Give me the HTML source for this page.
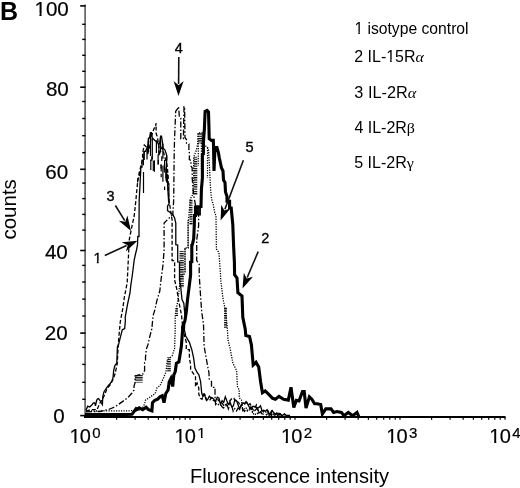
<!DOCTYPE html>
<html><head><meta charset="utf-8"><style>
html,body{margin:0;padding:0;background:#fff;width:520px;height:488px;overflow:hidden}
svg{position:absolute;left:0;top:0;display:block;will-change:transform}
</style></head><body>
<svg width="520" height="488" viewBox="0 0 520 488">
<defs><pattern id="hp" width="4" height="2.3" patternUnits="userSpaceOnUse"><rect x="0" y="0" width="4" height="1.2" fill="#000"/></pattern></defs>
<line x1="85.1" y1="4.6" x2="85.1" y2="417" stroke="#5a5a5a" stroke-width="1.6"/><line x1="84" y1="417" x2="505.5" y2="417" stroke="#000" stroke-width="2"/><line x1="80.2" y1="5.9" x2="85.5" y2="5.9" stroke="#000" stroke-width="1.6"/><line x1="82.2" y1="24.3" x2="85.5" y2="24.3" stroke="#000" stroke-width="1.4"/><line x1="82.2" y1="39.4" x2="85.5" y2="39.4" stroke="#000" stroke-width="1.4"/><line x1="82.2" y1="55.3" x2="85.5" y2="55.3" stroke="#000" stroke-width="1.4"/><line x1="82.2" y1="71.3" x2="85.5" y2="71.3" stroke="#000" stroke-width="1.4"/><line x1="80.2" y1="87.2" x2="85.5" y2="87.2" stroke="#000" stroke-width="1.6"/><line x1="82.2" y1="101.5" x2="85.5" y2="101.5" stroke="#000" stroke-width="1.4"/><line x1="82.2" y1="118.5" x2="85.5" y2="118.5" stroke="#000" stroke-width="1.4"/><line x1="82.2" y1="135.7" x2="85.5" y2="135.7" stroke="#000" stroke-width="1.4"/><line x1="82.2" y1="152.7" x2="85.5" y2="152.7" stroke="#000" stroke-width="1.4"/><line x1="80.2" y1="169.3" x2="85.5" y2="169.3" stroke="#000" stroke-width="1.6"/><line x1="82.2" y1="183.1" x2="85.5" y2="183.1" stroke="#000" stroke-width="1.4"/><line x1="82.2" y1="198.6" x2="85.5" y2="198.6" stroke="#000" stroke-width="1.4"/><line x1="82.2" y1="214.4" x2="85.5" y2="214.4" stroke="#000" stroke-width="1.4"/><line x1="82.2" y1="230.1" x2="85.5" y2="230.1" stroke="#000" stroke-width="1.4"/><line x1="80.2" y1="250.5" x2="85.5" y2="250.5" stroke="#000" stroke-width="1.6"/><line x1="82.2" y1="265.4" x2="85.5" y2="265.4" stroke="#000" stroke-width="1.4"/><line x1="82.2" y1="282.0" x2="85.5" y2="282.0" stroke="#000" stroke-width="1.4"/><line x1="82.2" y1="299.1" x2="85.5" y2="299.1" stroke="#000" stroke-width="1.4"/><line x1="82.2" y1="316.0" x2="85.5" y2="316.0" stroke="#000" stroke-width="1.4"/><line x1="80.2" y1="333.1" x2="85.5" y2="333.1" stroke="#000" stroke-width="1.6"/><line x1="82.2" y1="347.4" x2="85.5" y2="347.4" stroke="#000" stroke-width="1.4"/><line x1="82.2" y1="364.4" x2="85.5" y2="364.4" stroke="#000" stroke-width="1.4"/><line x1="82.2" y1="382.3" x2="85.5" y2="382.3" stroke="#000" stroke-width="1.4"/><line x1="82.2" y1="399.3" x2="85.5" y2="399.3" stroke="#000" stroke-width="1.4"/><line x1="80.2" y1="415.6" x2="85.5" y2="415.6" stroke="#000" stroke-width="1.6"/><line x1="116.6" y1="417" x2="116.6" y2="419.8" stroke="#000" stroke-width="1.2"/><line x1="135.1" y1="417" x2="135.1" y2="419.8" stroke="#000" stroke-width="1.2"/><line x1="148.2" y1="417" x2="148.2" y2="419.8" stroke="#000" stroke-width="1.2"/><line x1="158.4" y1="417" x2="158.4" y2="419.8" stroke="#000" stroke-width="1.2"/><line x1="166.7" y1="417" x2="166.7" y2="419.8" stroke="#000" stroke-width="1.2"/><line x1="173.7" y1="417" x2="173.7" y2="419.8" stroke="#000" stroke-width="1.2"/><line x1="179.8" y1="417" x2="179.8" y2="419.8" stroke="#000" stroke-width="1.2"/><line x1="185.2" y1="417" x2="185.2" y2="419.8" stroke="#000" stroke-width="1.2"/><line x1="190.0" y1="417" x2="190.0" y2="419.8" stroke="#000" stroke-width="1.2"/><line x1="221.6" y1="417" x2="221.6" y2="419.8" stroke="#000" stroke-width="1.2"/><line x1="240.1" y1="417" x2="240.1" y2="419.8" stroke="#000" stroke-width="1.2"/><line x1="253.2" y1="417" x2="253.2" y2="419.8" stroke="#000" stroke-width="1.2"/><line x1="263.4" y1="417" x2="263.4" y2="419.8" stroke="#000" stroke-width="1.2"/><line x1="271.7" y1="417" x2="271.7" y2="419.8" stroke="#000" stroke-width="1.2"/><line x1="278.7" y1="417" x2="278.7" y2="419.8" stroke="#000" stroke-width="1.2"/><line x1="284.8" y1="417" x2="284.8" y2="419.8" stroke="#000" stroke-width="1.2"/><line x1="290.2" y1="417" x2="290.2" y2="419.8" stroke="#000" stroke-width="1.2"/><line x1="295.0" y1="417" x2="295.0" y2="419.8" stroke="#000" stroke-width="1.2"/><line x1="326.6" y1="417" x2="326.6" y2="419.8" stroke="#000" stroke-width="1.2"/><line x1="345.1" y1="417" x2="345.1" y2="419.8" stroke="#000" stroke-width="1.2"/><line x1="358.2" y1="417" x2="358.2" y2="419.8" stroke="#000" stroke-width="1.2"/><line x1="368.4" y1="417" x2="368.4" y2="419.8" stroke="#000" stroke-width="1.2"/><line x1="376.7" y1="417" x2="376.7" y2="419.8" stroke="#000" stroke-width="1.2"/><line x1="383.7" y1="417" x2="383.7" y2="419.8" stroke="#000" stroke-width="1.2"/><line x1="389.8" y1="417" x2="389.8" y2="419.8" stroke="#000" stroke-width="1.2"/><line x1="395.2" y1="417" x2="395.2" y2="419.8" stroke="#000" stroke-width="1.2"/><line x1="400.0" y1="417" x2="400.0" y2="419.8" stroke="#000" stroke-width="1.2"/><line x1="431.6" y1="417" x2="431.6" y2="419.8" stroke="#000" stroke-width="1.2"/><line x1="450.1" y1="417" x2="450.1" y2="419.8" stroke="#000" stroke-width="1.2"/><line x1="463.2" y1="417" x2="463.2" y2="419.8" stroke="#000" stroke-width="1.2"/><line x1="473.4" y1="417" x2="473.4" y2="419.8" stroke="#000" stroke-width="1.2"/><line x1="481.7" y1="417" x2="481.7" y2="419.8" stroke="#000" stroke-width="1.2"/><line x1="488.7" y1="417" x2="488.7" y2="419.8" stroke="#000" stroke-width="1.2"/><line x1="494.8" y1="417" x2="494.8" y2="419.8" stroke="#000" stroke-width="1.2"/><line x1="500.2" y1="417" x2="500.2" y2="419.8" stroke="#000" stroke-width="1.2"/><line x1="505.0" y1="417" x2="505.0" y2="419.8" stroke="#000" stroke-width="1.2"/>
<rect x="195.2" y="206.5" width="5.8" height="9.0" fill="#111"/><polyline points="86.0,410.0 87.8,406.2 89.7,407.0 92.0,404.7 93.5,402.8 94.7,402.8 95.5,405.8 96.6,400.5 97.4,398.9 98.5,398.5 100.0,400.5 101.2,402.8 102.4,404.7 102.8,396.6 103.9,392.0 104.2,391.5 106.1,388.7 108.0,385.8 110.0,383.8 112.0,381.0 113.0,377.7 113.7,370.4 114.9,365.5 116.8,363.0 117.4,347.0 118.6,344.6 120.4,337.2 122.3,329.8 124.7,328.6 125.4,320.0 125.2,317.4 127.6,304.0 130.0,293.0 130.8,285.3 132.2,276.0 133.2,268.0 134.2,260.0 135.5,254.0 136.5,250.0 137.5,245.0 137.8,236.5 139.0,236.5 139.0,225.0 139.2,200.0 140.0,185.0 140.9,167.0 142.0,167.0 142.0,160.3 143.4,160.3 144.2,151.3 145.5,151.3 147.0,148.0 147.5,148.0 148.5,138.2 149.5,138.2 150.5,132.6 151.4,132.6 152.3,138.0 155.5,141.0 156.8,141.0 158.2,143.8 159.5,143.8 160.6,136.1 161.5,136.1 162.7,143.8 163.0,148.0 165.0,150.0 166.7,155.4 166.7,160.3 166.3,167.0 166.3,180.7 167.5,183.0 168.1,193.3 168.6,201.4 169.2,203.7 167.5,206.0 167.5,210.6 169.5,212.0 172.8,214.4 174.6,218.0 175.8,223.0 175.8,244.6 177.7,245.0 177.7,261.8 179.5,262.0 179.5,280.0 180.7,287.0 182.0,299.6 183.8,303.3 185.0,315.6 184.4,330.0 185.7,336.0 189.4,342.3 191.8,349.7 193.7,358.3 194.9,368.1 197.4,373.0 198.8,374.6 200.6,381.5 201.7,393.0 202.9,396.5 204.5,394.3 206.1,399.7 207.7,399.5 209.3,396.2 210.9,398.0 212.5,397.9 214.1,399.7 215.7,401.0 217.3,397.1 218.9,397.9 220.5,404.2 222.1,400.7 223.7,402.4 225.3,396.8 226.9,401.1 228.5,404.4 230.1,402.1 231.7,406.8 233.3,406.1 234.9,399.7 236.5,400.6 238.1,405.1 239.7,408.9 241.3,404.6 242.9,402.9 244.5,403.7 246.1,401.6 247.7,404.2 249.3,407.0 250.9,408.1 252.5,406.4 254.1,406.5 255.7,406.6 257.3,408.4 258.9,407.4 260.5,405.8 262.1,411.0 263.7,410.3 265.3,411.2 266.9,409.8 268.5,413.5 270.1,413.5 271.7,410.8 273.3,412.0 274.9,413.9 276.5,414.1 278.1,415.4 279.7,413.6 281.3,415.5 282.9,415.1 284.5,413.9 286.1,415.3 287.7,415.5 289.3,415.5 290.0,415.5" fill="none" stroke="#000" stroke-width="1.3"/><polyline points="86.0,411.0 90.0,409.7 97.0,409.7 100.0,403.0 102.0,400.0 104.5,395.0 107.0,388.5 110.2,385.0 113.5,378.5 115.1,373.5 117.2,364.0 118.0,350.0 118.6,340.0 120.2,322.3 122.7,309.0 124.3,297.7 126.8,284.6 127.2,282.4 127.9,268.0 128.6,253.7 129.3,239.3 130.8,232.0 132.2,225.0 134.2,216.0 135.8,201.0 137.6,182.4 139.3,173.0 140.0,169.5 142.6,159.5 142.6,152.9 144.3,145.1 147.5,148.0 147.5,154.6 149.5,148.0 151.2,136.8 154.0,128.5 155.4,127.0 156.1,123.2 156.1,133.3 157.5,137.5 159.0,148.0 159.0,155.4 162.0,147.4 163.0,150.0 164.5,156.0 167.0,164.6 168.2,177.0 168.2,190.0 169.0,200.0 170.5,210.0 172.1,220.0 172.1,260.6 174.6,260.6 174.6,280.0 177.0,290.0 178.5,300.0 181.5,315.0 183.0,330.0 186.3,342.3 186.3,349.7 189.4,349.7 189.4,358.3 190.6,364.4 190.6,369.4 195.5,376.7 195.5,386.6 197.1,383.0 198.8,388.0 198.8,394.2 200.4,398.4 202.0,399.3 203.6,394.0 205.2,395.1 206.8,400.6 208.4,400.1 210.0,399.9 211.6,397.6 213.2,400.3 214.8,401.1 216.4,401.8 218.0,399.6 219.6,401.7 221.2,401.7 222.8,404.2 224.4,406.4 226.0,405.9 227.6,402.6 229.2,401.4 230.8,399.7 232.4,397.9 234.0,398.4 235.6,402.1 237.2,401.7 238.8,402.7 240.4,406.8 242.0,404.7 243.6,405.3 245.2,403.5 246.8,402.4 248.4,404.8 250.0,403.7 251.6,406.5 253.2,410.1 254.8,408.1 256.4,404.9 258.0,410.4 259.6,410.3 261.2,410.4 262.8,410.9 264.4,410.9 266.0,411.5 267.6,410.2 269.2,413.2 270.8,413.6 272.4,410.9 274.0,413.7 275.6,414.0 277.2,413.3 278.8,413.9 280.4,414.0 282.0,415.5 283.6,414.7 285.0,415.0" fill="none" stroke="#000" stroke-width="1.3" stroke-dasharray="4 2"/><polyline points="86.0,411.8 100.0,411.5 110.0,409.0 115.7,406.4 119.6,403.6 124.4,400.2 128.2,397.3 132.0,393.0 134.0,390.0 134.0,386.0 135.0,383.0 135.0,376.0 139.0,375.0 143.0,374.0 143.2,372.5 144.6,370.7 144.6,362.4 145.5,360.5 145.5,357.0 146.2,349.5 148.0,344.6 149.3,338.4 151.8,329.0 153.1,315.6 155.0,309.4 156.8,300.8 159.8,291.0 161.0,280.0 163.0,265.0 164.1,250.0 164.1,223.0 172.8,214.4 173.7,200.0 174.1,160.0 174.5,140.0 175.7,111.3 177.5,109.0 178.5,106.6 178.8,110.0 179.4,117.0 180.8,118.0 180.8,138.7 183.4,138.5 184.0,106.6 184.6,106.6 185.0,137.7 186.5,139.6 186.5,143.2 188.9,144.0 188.9,150.0 189.5,153.6 189.3,159.6 191.0,160.4 191.0,166.1 192.2,167.8 192.2,178.0 193.6,195.0 195.5,205.0 198.6,215.0 198.6,226.0 196.7,240.0 196.7,260.6 199.2,264.3 199.2,275.0 200.4,293.5 201.7,312.0 203.5,324.0 204.1,346.0 206.0,357.0 207.8,367.0 209.0,373.0 209.2,379.0 211.5,381.5 211.5,387.3 215.0,387.3 215.0,396.5 215.6,404.6 217.2,402.9 218.8,405.2 220.4,404.3 222.0,406.9 223.6,408.0 225.2,404.9 226.8,403.9 228.4,409.0 230.0,404.3 231.6,405.1 233.2,411.4 234.8,408.7 236.4,411.1 238.0,408.2 239.6,409.1 241.2,405.8 242.8,409.5 244.4,411.5 246.0,409.4 247.6,411.2 249.2,411.0 250.8,407.1 252.4,412.3 254.0,411.4 255.6,409.7 257.2,408.2 258.8,414.3 260.4,411.9 262.0,413.9 263.6,414.2 265.2,413.9 266.8,415.0 268.4,413.3 270.0,415.2 271.6,413.9 273.2,415.5 274.8,415.5 276.4,413.0 278.0,413.3 279.6,413.8 280.0,415.0" fill="none" stroke="#000" stroke-width="1.3" stroke-dasharray="6 2 1.5 2"/><polyline points="86.0,411.0 100.0,411.0 120.0,410.8 130.0,410.8 140.0,410.0 143.0,407.0 144.6,404.0 145.6,400.0 148.5,398.2 151.3,396.3 155.2,393.4 157.1,387.6 160.0,385.7 163.5,378.0 166.0,371.8 167.2,360.8 169.7,358.3 172.1,355.8 174.6,348.5 175.2,330.0 175.2,316.0 176.4,308.0 178.0,300.0 179.5,287.0 181.0,275.0 183.8,275.0 185.0,272.0 185.0,248.0 188.1,248.0 188.1,225.0 190.3,199.0 192.8,194.5 193.7,178.0 193.7,157.0 196.5,150.0 197.8,143.0 197.9,133.0 202.4,133.0 202.4,143.0 207.5,147.5 208.5,150.0 209.4,165.0 210.6,189.6 211.6,199.0 213.2,204.6 214.8,212.8 216.0,216.0 216.4,249.0 218.9,252.5 220.5,273.8 220.7,279.7 223.1,299.3 224.8,307.5 227.2,325.6 228.0,340.0 230.1,348.5 232.9,363.2 236.6,370.6 237.5,387.3 239.2,389.6 239.2,397.7 241.5,400.0 242.7,410.4 244.3,408.7 245.9,407.9 247.5,410.1 249.1,408.5 250.7,408.1 252.3,410.8 253.9,414.7 255.5,414.2 257.1,414.3 258.7,410.8 260.3,413.3 261.9,411.6 263.5,412.0 265.1,411.9 266.7,412.5 268.3,415.5 269.9,415.3 271.5,415.5 273.1,415.5 274.7,413.5 276.3,414.2 277.9,415.5 279.5,415.5 280.0,415.5" fill="none" stroke="#000" stroke-width="1.3" stroke-dasharray="1.2 1.3"/><line x1="158.3" y1="160" x2="158.3" y2="164.6" stroke="#000" stroke-width="1.2"/><line x1="161.2" y1="164.6" x2="161.2" y2="171.5" stroke="#000" stroke-width="1.2"/><line x1="161.2" y1="173.8" x2="161.2" y2="177.2" stroke="#000" stroke-width="1.2"/><line x1="162.9" y1="165.7" x2="162.9" y2="181.8" stroke="#000" stroke-width="1.2"/><line x1="164.6" y1="160" x2="164.6" y2="170.3" stroke="#000" stroke-width="1.2"/><line x1="164.6" y1="186.4" x2="164.6" y2="189.9" stroke="#000" stroke-width="1.2"/><line x1="166.3" y1="166.9" x2="166.3" y2="180.7" stroke="#000" stroke-width="1.2"/><line x1="167.5" y1="173.8" x2="167.5" y2="183" stroke="#000" stroke-width="1.2"/><line x1="168.9" y1="183" x2="168.9" y2="201" stroke="#000" stroke-width="1.2"/><line x1="137.6" y1="178.3" x2="137.6" y2="182.4" stroke="#000" stroke-width="1.2"/><line x1="139.3" y1="171.8" x2="139.3" y2="175.9" stroke="#000" stroke-width="1.2"/><line x1="143.5" y1="172" x2="143.5" y2="193" stroke="#000" stroke-width="1.2"/><line x1="143.4" y1="160.3" x2="143.4" y2="165.2" stroke="#000" stroke-width="1.2"/><line x1="144.2" y1="151.3" x2="144.2" y2="160" stroke="#000" stroke-width="1.2"/><line x1="147" y1="148" x2="147" y2="159.5" stroke="#000" stroke-width="1.2"/><line x1="148.5" y1="138.2" x2="148.5" y2="152" stroke="#000" stroke-width="1.2"/><line x1="150.5" y1="132.6" x2="150.5" y2="156" stroke="#000" stroke-width="1.2"/><line x1="150.8" y1="159.5" x2="150.8" y2="170.1" stroke="#000" stroke-width="1.2"/><line x1="151.8" y1="156.2" x2="151.8" y2="161.1" stroke="#000" stroke-width="1.2"/><line x1="152.3" y1="138" x2="152.3" y2="159.5" stroke="#000" stroke-width="1.2"/><line x1="153.3" y1="160.7" x2="153.3" y2="171" stroke="#000" stroke-width="1.2"/><line x1="154.4" y1="160.3" x2="154.4" y2="171.8" stroke="#000" stroke-width="1.2"/><line x1="156.4" y1="141" x2="156.4" y2="152.9" stroke="#000" stroke-width="1.2"/><line x1="158.1" y1="154.6" x2="158.1" y2="164.4" stroke="#000" stroke-width="1.2"/><line x1="158.9" y1="143.8" x2="158.9" y2="155.4" stroke="#000" stroke-width="1.2"/><line x1="160.6" y1="136.1" x2="160.6" y2="152" stroke="#000" stroke-width="1.2"/><line x1="161" y1="164.4" x2="161" y2="168.5" stroke="#000" stroke-width="1.2"/><line x1="161.8" y1="156.2" x2="161.8" y2="161.1" stroke="#000" stroke-width="1.2"/><line x1="162.9" y1="143.8" x2="162.9" y2="158.7" stroke="#000" stroke-width="1.2"/><line x1="164.3" y1="164.4" x2="164.3" y2="172.6" stroke="#000" stroke-width="1.2"/><line x1="166.7" y1="155.4" x2="166.7" y2="160.3" stroke="#000" stroke-width="1.2"/><line x1="165.9" y1="168.5" x2="165.9" y2="178.3" stroke="#000" stroke-width="1.2"/><rect x="167.2" y="357" width="3.6" height="14.6" fill="url(#hp)"/><rect x="135" y="374.4" width="7.7" height="8.2" fill="url(#hp)"/><rect x="197.8" y="133" width="4.6" height="10.4" fill="url(#hp)"/><rect x="193.7" y="156.7" width="3.6" height="38.3" fill="url(#hp)"/><rect x="189.5" y="199" width="3.0" height="26.0" fill="url(#hp)"/><rect x="179.5" y="250.7" width="4.3" height="36.6" fill="url(#hp)"/><rect x="175.5" y="308" width="2.5" height="8.0" fill="url(#hp)"/><rect x="224" y="307" width="3.0" height="21.0" fill="url(#hp)"/><line x1="198.3" y1="143" x2="198.3" y2="166" stroke="#000" stroke-width="1.2" stroke-dasharray="1.2 1.3"/><line x1="201.4" y1="143" x2="201.4" y2="170" stroke="#000" stroke-width="1.2" stroke-dasharray="1.2 1.3"/><line x1="207.5" y1="147.5" x2="207.5" y2="178" stroke="#000" stroke-width="1.2" stroke-dasharray="1.2 1.3"/><line x1="185" y1="248" x2="185" y2="272" stroke="#000" stroke-width="1.2" stroke-dasharray="1.2 1.3"/><line x1="188.1" y1="220" x2="188.1" y2="248" stroke="#000" stroke-width="1.2" stroke-dasharray="1.2 1.3"/><polyline points="85.0,414.6 100.0,414.6 119.6,414.6 132.0,414.3 136.0,408.8 136.9,409.6 139.2,407.9 142.7,409.6 146.1,407.3 148.5,409.6 151.9,410.8 152.5,402.7 154.8,400.4 157.7,399.2 160.0,396.9 162.3,395.8 164.0,402.7 165.8,393.5 168.1,390.0 169.2,381.9 170.9,378.5 172.7,386.5 173.8,375.0 175.2,371.8 176.4,363.2 178.9,362.0 180.1,354.6 181.4,346.0 182.6,330.0 182.6,326.7 185.0,320.5 186.3,311.9 187.5,299.6 189.4,284.8 190.6,275.0 190.6,262.0 191.8,261.8 191.8,245.0 192.4,244.6 193.7,238.5 194.3,225.0 194.5,215.5 195.5,215.5 195.5,207.0 201.0,206.5 201.4,189.6 202.4,178.0 202.4,155.0 203.4,154.0 203.4,142.3 204.4,128.7 205.1,111.5 207.0,110.5 208.5,112.0 209.0,130.0 209.2,138.8 211.5,140.4 213.3,140.4 213.5,145.0 214.0,171.0 215.0,147.0 216.9,147.3 218.4,152.6 219.2,157.3 221.5,168.0 223.0,171.0 223.5,180.0 225.0,182.5 225.5,192.0 227.0,196.4 227.0,196.4 227.0,201.3 229.6,201.3 229.6,207.9 231.2,208.0 232.8,224.6 233.6,246.0 234.4,262.3 234.6,274.8 237.0,278.0 237.9,292.8 242.0,296.0 242.8,317.4 245.2,328.9 245.8,335.5 249.5,336.5 251.4,344.8 253.2,365.0 256.0,362.3 258.7,366.9 260.6,381.7 262.4,392.7 265.2,390.9 268.0,393.7 272.6,398.3 275.4,399.2 279.0,396.4 283.6,399.2 288.3,400.1 291.0,387.2 293.8,407.5 296.4,400.3 299.0,401.0 302.5,391.6 304.2,391.6 306.0,408.0 309.4,396.8 312.0,399.4 314.6,403.7 317.2,403.7 320.7,404.6 322.4,414.0 325.8,408.9 331.0,408.9 333.6,412.4 337.0,411.5 341.4,412.4 344.0,415.8 348.3,412.4 352.7,415.8 357.0,412.4 358.7,416.4" fill="none" stroke="#000" stroke-width="3.1" stroke-linejoin="miter" stroke-miterlimit="3"/>
<line x1="178.8" y1="57.0" x2="178.6" y2="84.0" stroke="#111" stroke-width="1.6"/><polygon points="178.5,96.0 173.6,81.0 178.6,85.2 183.6,81.0" fill="#000"/><line x1="115.4" y1="205.5" x2="124.7" y2="220.7" stroke="#111" stroke-width="1.6"/><polygon points="131.0,230.9 118.9,220.7 125.3,221.7 127.4,215.5" fill="#000"/><line x1="104.8" y1="255.5" x2="126.6" y2="245.6" stroke="#111" stroke-width="1.6"/><polygon points="137.5,240.7 125.9,251.4 127.7,245.2 121.8,242.3" fill="#000"/><line x1="243.4" y1="160.3" x2="224.9" y2="209.3" stroke="#111" stroke-width="1.6"/><polygon points="220.6,220.5 221.2,204.7 224.4,210.4 230.6,208.2" fill="#000"/><line x1="258.2" y1="251.6" x2="247.2" y2="277.5" stroke="#111" stroke-width="1.6"/><polygon points="242.5,288.5 243.8,272.7 246.7,278.6 253.0,276.7" fill="#000"/>
<text x="68.8" y="15.6" text-anchor="end" font-family="Liberation Sans, sans-serif" font-size="20.6" stroke="#000" stroke-width="0.2">100</text><text x="68.8" y="96.2" text-anchor="end" font-family="Liberation Sans, sans-serif" font-size="20.6" stroke="#000" stroke-width="0.2">80</text><text x="68.2" y="178.6" text-anchor="end" font-family="Liberation Sans, sans-serif" font-size="20.6" stroke="#000" stroke-width="0.2">60</text><text x="67.8" y="258.6" text-anchor="end" font-family="Liberation Sans, sans-serif" font-size="20.6" stroke="#000" stroke-width="0.2">40</text><text x="67.6" y="340.1" text-anchor="end" font-family="Liberation Sans, sans-serif" font-size="20.6" stroke="#000" stroke-width="0.2">20</text><text x="64.8" y="423.4" text-anchor="end" font-family="Liberation Sans, sans-serif" font-size="20.6" stroke="#000" stroke-width="0.2">0</text><text x="69.5" y="443.4" font-family="Liberation Sans, sans-serif" font-size="20" stroke="#000" stroke-width="0.2">1<tspan dx="-0.8">0</tspan><tspan dx="1.4" dy="-5.5" font-size="15">0</tspan></text><text x="174.5" y="443.4" font-family="Liberation Sans, sans-serif" font-size="20" stroke="#000" stroke-width="0.2">1<tspan dx="-0.8">0</tspan><tspan dx="1.4" dy="-5.5" font-size="15">1</tspan></text><text x="280.9" y="443.4" font-family="Liberation Sans, sans-serif" font-size="20" stroke="#000" stroke-width="0.2">1<tspan dx="-0.8">0</tspan><tspan dx="1.4" dy="-5.5" font-size="15">2</tspan></text><text x="386.2" y="443.4" font-family="Liberation Sans, sans-serif" font-size="20" stroke="#000" stroke-width="0.2">1<tspan dx="-0.8">0</tspan><tspan dx="1.4" dy="-5.5" font-size="15">3</tspan></text><text x="489.3" y="443.4" font-family="Liberation Sans, sans-serif" font-size="20" stroke="#000" stroke-width="0.2">1<tspan dx="-0.8">0</tspan><tspan dx="1.4" dy="-5.5" font-size="15">4</tspan></text><text x="190" y="483" font-family="Liberation Sans, sans-serif" font-size="20">Fluorescence intensity</text><text x="16" y="239.6" font-family="Liberation Sans, sans-serif" font-size="20" textLength="60.5" lengthAdjust="spacingAndGlyphs" transform="rotate(-90 16 239.6)">counts</text><text x="0" y="19.6" font-family="Liberation Sans, sans-serif" font-size="25" font-weight="bold">B</text><text x="354.4" y="33.8" font-family="Liberation Sans, sans-serif" font-size="15.6" textLength="114.2" lengthAdjust="spacingAndGlyphs">1 isotype control</text><text x="354.3" y="61.7" font-family="Liberation Sans, sans-serif" font-size="15.6" textLength="69.5" lengthAdjust="spacingAndGlyphs">2 IL-15R<tspan font-family="Liberation Serif, serif" font-style="italic">α</tspan></text><text x="354.3" y="97.5" font-family="Liberation Sans, sans-serif" font-size="15.6" textLength="62" lengthAdjust="spacingAndGlyphs">3 IL-2R<tspan font-family="Liberation Serif, serif" font-style="italic">α</tspan></text><text x="354.4" y="133.1" font-family="Liberation Sans, sans-serif" font-size="15.6" textLength="60.6" lengthAdjust="spacingAndGlyphs">4 IL-2R<tspan font-family="Liberation Serif, serif">β</tspan></text><text x="354.2" y="168.1" font-family="Liberation Sans, sans-serif" font-size="15.6" textLength="59.8" lengthAdjust="spacingAndGlyphs">5 IL-2R<tspan font-family="Liberation Serif, serif">γ</tspan></text><text x="178.8" y="52.8" text-anchor="middle" font-family="Liberation Sans, sans-serif" font-size="14.5" stroke="#000" stroke-width="0.35">4</text><text x="110.5" y="201.4" text-anchor="middle" font-family="Liberation Sans, sans-serif" font-size="14.5" stroke="#000" stroke-width="0.35">3</text><text x="97.5" y="262.9" text-anchor="middle" font-family="Liberation Sans, sans-serif" font-size="14.5" stroke="#000" stroke-width="0.35">1</text><text x="249.6" y="151.8" text-anchor="middle" font-family="Liberation Sans, sans-serif" font-size="14.5" stroke="#000" stroke-width="0.35">5</text><text x="265.2" y="243" text-anchor="middle" font-family="Liberation Sans, sans-serif" font-size="14.5" stroke="#000" stroke-width="0.35">2</text>
<rect x="35.40" y="13.06" width="4.03" height="3.84" fill="#fff"/><rect x="41.61" y="13.06" width="3.87" height="3.84" fill="#fff"/><rect x="70.42" y="440.91" width="3.93" height="3.79" fill="#fff"/><rect x="76.48" y="440.91" width="3.77" height="3.79" fill="#fff"/><rect x="175.42" y="440.91" width="3.93" height="3.79" fill="#fff"/><rect x="181.48" y="440.91" width="3.77" height="3.79" fill="#fff"/><rect x="197.89" y="435.78" width="3.05" height="3.42" fill="#fff"/><rect x="202.63" y="435.78" width="2.93" height="3.42" fill="#fff"/><rect x="281.82" y="440.91" width="3.93" height="3.79" fill="#fff"/><rect x="287.88" y="440.91" width="3.77" height="3.79" fill="#fff"/><rect x="387.12" y="440.91" width="3.93" height="3.79" fill="#fff"/><rect x="393.18" y="440.91" width="3.77" height="3.79" fill="#fff"/><rect x="490.22" y="440.91" width="3.93" height="3.79" fill="#fff"/><rect x="496.28" y="440.91" width="3.77" height="3.79" fill="#fff"/><rect x="355.10" y="31.73" width="3.17" height="3.27" fill="#fff"/><rect x="359.82" y="31.73" width="3.05" height="3.27" fill="#fff"/><rect x="386.89" y="59.63" width="3.22" height="3.27" fill="#fff"/><rect x="391.69" y="59.63" width="3.10" height="3.27" fill="#fff"/><rect x="93.89" y="260.74" width="2.97" height="3.53" fill="#fff"/><rect x="98.65" y="260.74" width="2.85" height="3.53" fill="#fff"/>
</svg>
</body></html>
